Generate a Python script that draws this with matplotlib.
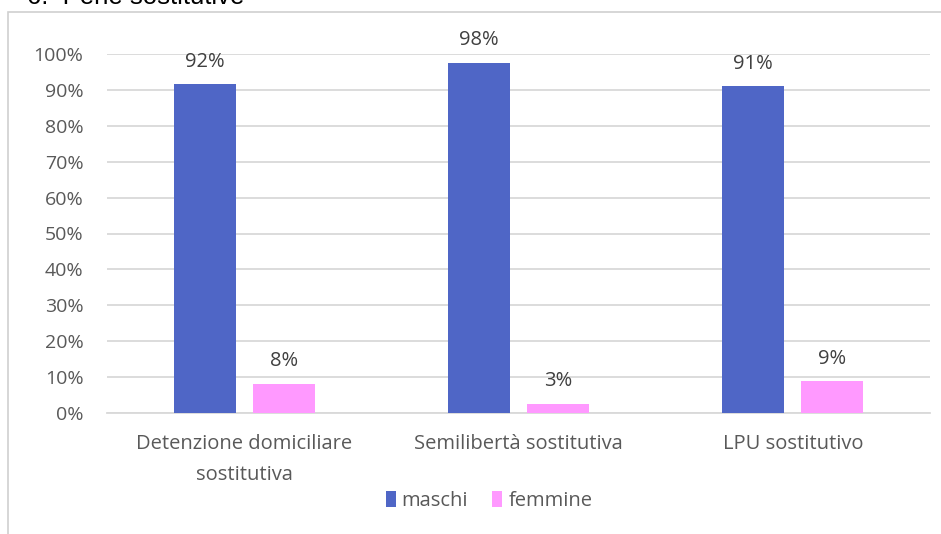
import numpy as np
import matplotlib.pyplot as plt
from matplotlib.patches import Rectangle

plt.rcParams['font.family'] = ['Open Sans', 'DejaVu Sans']

categorie = ['Detenzione domiciliare\nsostitutiva', 'Semilibertà sostitutiva', 'LPU sostitutivo']
maschi = [91.6, 97.6, 91.0]
femmine = [8.2, 2.6, 8.9]
serie = ['maschi', 'femmine']
colori = ['#4F66C6', '#FF99FF']
tick_y = np.arange(0, 101, 10)

fig = plt.figure(figsize=(9.41, 5.34), dpi=100)
W, H = 941, 534

# cornice del grafico (lati destro e inferiore fuori dall'immagine)
fig.patches.append(Rectangle((8 / W, -0.1), 1.2, 1.1 - 12 / H, transform=fig.transFigure,
                             fill=False, edgecolor='#D0D0D0', linewidth=1.2))
fig.text(27 / W, 1.005, '6.  Pene sostitutive', fontsize=18.5, color='black',
         family='Liberation Sans', va='center', ha='left')

ax = fig.add_axes([107 / W, 1 - 413 / H, (930 - 107) / W, (413 - 54) / H])

x = np.arange(len(categorie))
off = 0.144
w = 0.226
b1 = ax.bar(x - off, maschi, w, color=colori[0], label=serie[0], zorder=3)
b2 = ax.bar(x + off, femmine, w, color=colori[1], label=serie[1], zorder=3)

for bars, vals in ((b1, maschi), (b2, femmine)):
    for r, v in zip(bars, vals):
        ax.annotate(f'{v:.0f}%', (r.get_x() + r.get_width() / 2, v),
                    xytext=(0, 9), textcoords='offset points',
                    ha='center', va='bottom', fontsize=14.5, color='#404040')

ax.set_xlim(-0.5, 2.5)
ax.set_ylim(0, 100)
ax.set_yticks(tick_y)
ax.set_yticklabels([f'{t}%' for t in tick_y])
ax.set_xticks(x)
ax.set_xticklabels(categorie, fontsize=14.5, color='#595959', linespacing=1.75)
ax.tick_params(axis='y', labelsize=14, labelcolor='#595959', length=0, pad=17)
ax.tick_params(axis='x', length=0, pad=15)
ax.grid(axis='y', color='#D9D9D9', linewidth=1.3, zorder=0)
for s in ['top', 'right', 'left']:
    ax.spines[s].set_visible(False)
ax.spines['bottom'].set_color('#D9D9D9')
ax.spines['bottom'].set_linewidth(1.3)

fig.legend(loc='center', bbox_to_anchor=(489 / W, 1 - 501 / H), ncol=2, frameon=False,
           fontsize=14.5, labelcolor='#595959', handlelength=0.5, handleheight=0.8,
           handletextpad=0.3, columnspacing=1.2)

fig.savefig('out.png', dpi=100)
